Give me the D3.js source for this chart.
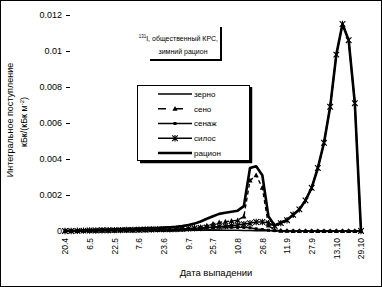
<!DOCTYPE html>
<html lang="ru">
<head>
  <meta charset="UTF-8">
  <title>Интегральное поступление</title>
  <script src='https://d3js.org/d3.v7.min.js'></script>
  <style>
    body { margin: 0; background: #fff; }
    text { font-family: 'Liberation Sans', Arial, sans-serif; fill: #000; }
  </style>
</head>
<body>
</body>
<script>
  const width = 382, height = 287;

  // dates every 4 days, 1986
  const dates = [
    '20.4', '24.4', '28.4', '2.5', '6.5', '10.5', '14.5', '18.5', '22.5', '26.5',
    '30.5', '3.6', '7.6', '11.6', '15.6', '19.6', '23.6', '27.6', '1.7', '5.7',
    '9.7', '13.7', '17.7', '21.7', '25.7', '29.7', '2.8', '6.8', '10.8', '14.8',
    '18.8', '22.8', '26.8', '30.8', '3.9', '7.9', '11.9', '15.9', '19.9', '23.9',
    '27.9', '1.10', '5.10', '9.10', '13.10', '17.10', '21.10', '25.10', '29.10'
  ];
  const tickDates = ['20.4', '6.5', '22.5', '7.6', '23.6', '9.7', '25.7', '10.8', '26.8', '11.9', '27.9', '13.10', '29.10'];
  const yTicks = [0, 0.002, 0.004, 0.006, 0.008, 0.01, 0.012];

  const grain = [
    0, 0, 0, 0, 0, 0, 0, 0, 0.00001, 0.00001,
    0.00001, 0.00001, 0.00001, 0.00002, 0.00002, 0.00002, 0.00002, 0.00003, 0.00003, 0.00003,
    0.00004, 0.00004, 0.00005, 0.00005, 0.00005, 0.00005, 0.00004, 0.00004, 0.00004, 0.00003,
    0.00003, 0.00002, 0.00002, 0.00001, 0.00001, 0, 0, 0, 0, 0,
    0, 0, 0, 0, 0, 0, 0, 0, 0
  ];
  const hay = [
    0, 0, 0, 0.00001, 0.00001, 0.00001, 0.00002, 0.00002, 0.00002, 0.00003,
    0.00003, 0.00003, 0.00004, 0.00004, 0.00005, 0.00005, 0.00006, 0.00007, 0.00008, 0.0001,
    0.00012, 0.00016, 0.00022, 0.0003, 0.0004, 0.00048, 0.00052, 0.00056, 0.0006, 0.0008,
    0.0028, 0.0031, 0.0024, 0.0003, 0.00005, 0.00002, 0.00001, 0, 0, 0,
    0, 0, 0, 0, 0, 0, 0, 0, 0
  ];
  const haylage = [
    0, 0, 0.00001, 0.00001, 0.00001, 0.00002, 0.00002, 0.00002, 0.00003, 0.00003,
    0.00003, 0.00004, 0.00004, 0.00004, 0.00005, 0.00005, 0.00006, 0.00006, 0.00007, 0.00007,
    0.00008, 0.0001, 0.00014, 0.00018, 0.0002, 0.00022, 0.00022, 0.00021, 0.0002, 0.0002,
    0.00018, 0.00012, 0.00008, 0.00004, 0.00002, 0.00001, 0, 0, 0, 0,
    0, 0, 0, 0, 0, 0, 0, 0, 0
  ];
  const silage = [
    0, 0, 0.00001, 0.00002, 0.00003, 0.00003, 0.00004, 0.00004, 0.00005, 0.00005,
    0.00006, 0.00006, 0.00007, 0.00008, 0.00008, 0.00009, 0.0001, 0.0001, 0.00011, 0.00012,
    0.00013, 0.00015, 0.00017, 0.0002, 0.00022, 0.00025, 0.00027, 0.0003, 0.00033, 0.00038,
    0.00043, 0.0005, 0.0005, 0.00044, 0.00028, 0.00044, 0.0006, 0.0009, 0.0012, 0.0017,
    0.0024, 0.0035, 0.0049, 0.0069, 0.0098, 0.0115, 0.0106, 0.0071, 0
  ];
  const ration = [
    0.00001, 0.00001, 0.00002, 0.00004, 0.00005, 0.00006, 0.00008, 0.00008, 0.0001, 0.00011,
    0.00012, 0.00012, 0.00014, 0.00015, 0.00016, 0.00017, 0.00019, 0.00021, 0.00023, 0.00027,
    0.00033, 0.00041, 0.00053, 0.00068, 0.00082, 0.00095, 0.00101, 0.00107, 0.00113, 0.00138,
    0.0035, 0.0036, 0.0031, 0.0008, 0.0003, 0.00046, 0.00061, 0.0009, 0.0012, 0.0017,
    0.0024, 0.0035, 0.0049, 0.0069, 0.0098, 0.0115, 0.0106, 0.0071, 0
  ];

  const series = [
    {name: 'зерно', values: grain, width: 1.6, dash: null, marker: null},
    {name: 'сено', values: hay, width: 1.4, dash: '4,3', marker: 'triangle'},
    {name: 'сенаж', values: haylage, width: 1.4, dash: null, marker: 'square'},
    {name: 'силос', values: silage, width: 1.6, dash: null, marker: 'asterisk'},
    {name: 'рацион', values: ration, width: 2.6, dash: null, marker: null}
  ];

  const svg = d3.select('body').append('svg').attr('width', width).attr('height', height);

  // outer frame
  svg.append('rect').attr('x', 0.5).attr('y', 0.5).attr('width', width - 1).attr('height', height - 1)
    .attr('fill', 'none').attr('stroke', '#000');

  const x = d3.scalePoint().domain(dates).range([65, 361]);
  const y = d3.scaleLinear().domain([0, 0.012]).range([231, 15]);

  // y axis
  const yAxis = svg.append('g').attr('transform', 'translate(70,0)')
    .call(d3.axisLeft(y).tickValues(yTicks).tickSize(4).tickPadding(4)
      .tickFormat(d => d === 0 ? '0' : d3.format('')(+d.toFixed(3))));
  yAxis.select('.domain').remove();
  yAxis.selectAll('text').style('font-size', '9px').style('font-family', "'Liberation Sans', Arial, sans-serif");
  yAxis.selectAll('line').attr('stroke', '#000');

  // x axis
  const xAxis = svg.append('g').attr('transform', 'translate(0,231)')
    .call(d3.axisBottom(x).tickValues(tickDates).tickSize(0));
  xAxis.select('.domain').remove();
  xAxis.selectAll('text')
    .attr('transform', 'rotate(-90)')
    .attr('x', -7).attr('y', 0).attr('dy', '0.35em')
    .style('text-anchor', 'end')
    .style('font-size', '8.5px').style('font-family', "'Liberation Sans', Arial, sans-serif");

  // axis titles
  svg.append('text').attr('x', 216).attr('y', 276).attr('text-anchor', 'middle')
    .style('font-size', '9.5px').text('Дата выпадении');
  svg.append('text').attr('transform', 'translate(13,120) rotate(-90)').attr('text-anchor', 'middle')
    .style('font-size', '9px').text('Интегральное поступление');
  const yt2 = svg.append('text').attr('transform', 'translate(27,122) rotate(-90)').attr('text-anchor', 'middle')
    .style('font-size', '9px');
  yt2.append('tspan').text('кБк/(кБк м');
  yt2.append('tspan').attr('dy', -3).style('font-size', '6px').text('-2');
  yt2.append('tspan').attr('dy', 3).text(')');

  // markers
  function drawMarker(g, type, cx, cy) {
    if (type === 'triangle') {
      g.append('path').attr('d', 'M0,-2.8L2.6,2L-2.6,2Z').attr('transform', `translate(${cx},${cy})`).attr('fill', '#000');
    } else if (type === 'square') {
      g.append('rect').attr('x', cx - 1.5).attr('y', cy - 1.5).attr('width', 3).attr('height', 3).attr('fill', '#000');
    } else if (type === 'asterisk') {
      g.append('path').attr('d', 'M-2.8,-2.8L2.8,2.8M-2.8,2.8L2.8,-2.8M0,-3.2V3.2')
        .attr('transform', `translate(${cx},${cy})`).attr('stroke', '#000').attr('stroke-width', 1.1).attr('fill', 'none');
    }
  }

  const line = d3.line().x((d, i) => x(dates[i])).y(d => y(d));

  series.forEach(s => {
    const g = svg.append('g');
    g.append('path').datum(s.values).attr('d', line)
      .attr('fill', 'none').attr('stroke', '#000').attr('stroke-width', s.width)
      .attr('stroke-dasharray', s.dash).attr('stroke-linejoin', 'round');
    if (s.marker) {
      s.values.forEach((v, i) => drawMarker(g, s.marker, x(dates[i]), y(v)));
    }
  });

  // title box
  const tb = svg.append('g');
  tb.append('rect').attr('x', 146).attr('y', 26).attr('width', 74).attr('height', 34).attr('fill', '#fff');
  tb.append('line').attr('x1', 221).attr('x2', 221).attr('y1', 27).attr('y2', 61).attr('stroke', '#000').attr('stroke-width', 2);
  tb.append('line').attr('x1', 150).attr('x2', 222).attr('y1', 60).attr('y2', 60).attr('stroke', '#000').attr('stroke-width', 2);
  const t1 = tb.append('text').attr('x', 218).attr('y', 41).attr('text-anchor', 'end').style('font-size', '7px');
  t1.append('tspan').attr('dy', -3).style('font-size', '4.5px').text('131');
  t1.append('tspan').attr('dy', 3).text('I, общественный КРС,');
  tb.append('text').attr('x', 183).attr('y', 54).attr('text-anchor', 'middle').style('font-size', '7px').text('зимний рацион');

  // legend
  const lg = svg.append('g');
  lg.append('rect').attr('x', 137.5).attr('y', 85.5).attr('width', 112).attr('height', 75)
    .attr('fill', '#fff').attr('stroke', '#000');
  lg.append('line').attr('x1', 251).attr('x2', 251).attr('y1', 87).attr('y2', 163).attr('stroke', '#000').attr('stroke-width', 2.5);
  lg.append('line').attr('x1', 140).attr('x2', 252).attr('y1', 162).attr('y2', 162).attr('stroke', '#000').attr('stroke-width', 2.5);

  const legendY = d3.scalePoint().domain(series.map(s => s.name)).range([94, 153]);
  series.forEach(s => {
    const ly = legendY(s.name);
    lg.append('line').attr('x1', 158).attr('x2', 192).attr('y1', ly).attr('y2', ly)
      .attr('stroke', '#000').attr('stroke-width', s.width).attr('stroke-dasharray', s.dash ? '8,9' : null);
    if (s.marker) drawMarker(lg, s.marker, 175, ly);
    lg.append('text').attr('x', 194).attr('y', ly).attr('dy', '0.35em').style('font-size', '8px').text(s.name);
  });

  console.log('ready..');
</script>
</html>
